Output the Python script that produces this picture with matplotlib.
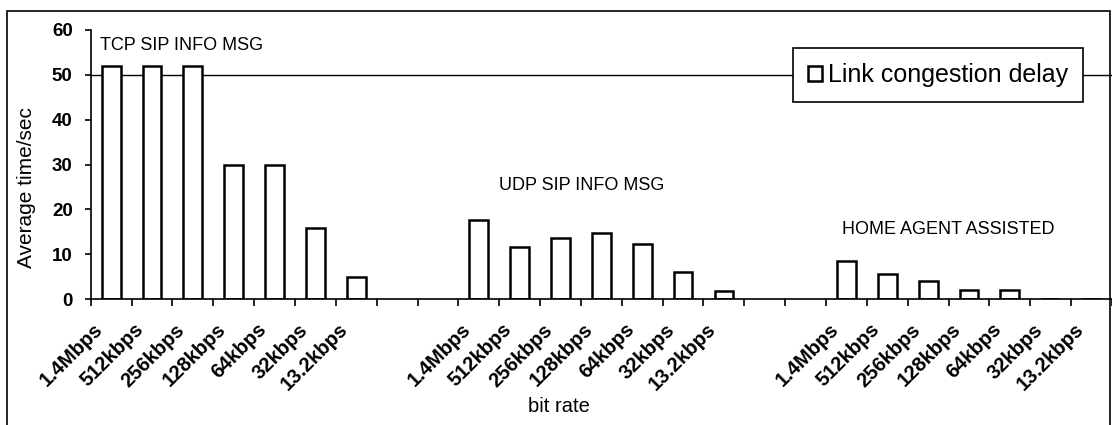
#!/usr/bin/env python3
"""
Link congestion delay per bit rate for three signalling schemes
(TCP SIP INFO, UDP SIP INFO, home agent assisted), Excel-style bar chart.
"""

import numpy as np
import matplotlib
matplotlib.use("Agg")
import matplotlib.pyplot as plt
import matplotlib.transforms as mtransforms
from matplotlib.patches import Rectangle

# ----------------- DATA -----------------
RATES = ["1.4Mbps", "512kbps", "256kbps", "128kbps", "64kbps", "32kbps", "13.2kbps"]
GROUPS = ["TCP SIP INFO MSG", "UDP SIP INFO MSG", "HOME AGENT ASSISTED"]

TCP_DELAY = [52.0, 52.0, 52.0, 30.0, 30.0, 15.8, 5.0]
UDP_DELAY = [17.6, 11.7, 13.5, 14.8, 12.2, 6.0, 1.8]
HA_DELAY = [8.5, 5.6, 4.1, 2.0, 2.1, 0.0, 0.0]

SERIES_NAME = "Link congestion delay"
GAP = 2          # empty categories between groups
# ----------------------------------------

plt.rcParams["font.family"] = ["Liberation Sans", "DejaVu Sans"]

W, H = 1112, 425
fig = plt.figure(figsize=(W / 100, H / 100), dpi=100)
ax = fig.add_axes([90.7 / W, 1 - 299 / H, 1 - 90.7 / W, (299 - 30) / H])

group_size = len(RATES) + GAP
n_cats = group_size * (len(GROUPS) - 1) + len(RATES)

positions = []
heights = []
for g, vals in enumerate([TCP_DELAY, UDP_DELAY, HA_DELAY]):
    for i, v in enumerate(vals):
        positions.append(g * group_size + i)
        heights.append(v)

tick_labels = [""] * n_cats
for p, lab in zip(positions, RATES * len(GROUPS)):
    tick_labels[p] = lab

# gridline (only the 50 one survived in the original)
ax.axhline(50, color="black", lw=1.0, zorder=0)

ax.bar(positions, heights, width=0.46, color="white", edgecolor="black",
       linewidth=1.8, label=SERIES_NAME, zorder=2)

ax.set_xlim(-0.5, n_cats - 0.5)
ax.set_ylim(0, 60)
ax.set_yticks(np.arange(0, 61, 10))

ax.set_xticks(np.arange(n_cats))
ax.set_xticklabels(tick_labels, rotation=45, ha="right", va="center",
                   rotation_mode="anchor", fontsize=14.5, fontweight="bold")
ax.set_xticks(np.arange(n_cats + 1) - 0.5, minor=True)
ax.tick_params(axis="x", which="major", length=0, pad=20)
ax.tick_params(axis="x", which="minor", length=5, width=1.2, direction="out")
ax.tick_params(axis="y", length=4, width=1.2, direction="out", pad=9, labelsize=13.5)
for lab in ax.get_yticklabels():
    lab.set_fontweight("bold")

shift = mtransforms.ScaledTranslation(-0.11, 0, fig.dpi_scale_trans)
for lab in ax.get_xticklabels():
    lab.set_transform(lab.get_transform() + shift)

for side in ["top", "right"]:
    ax.spines[side].set_visible(False)
ax.spines["left"].set_linewidth(1.2)
ax.spines["bottom"].set_linewidth(1.2)

# group annotations
ax.text(-0.27, 56.6, GROUPS[0], fontsize=13, ha="left", va="center")
ax.text(11.53, 25.4, GROUPS[1], fontsize=13, ha="center", va="center")
ax.text(20.5, 15.4, GROUPS[2], fontsize=13, ha="center", va="center")

ax.set_xlabel("bit rate", fontsize=14.5, va="center")
ax.xaxis.set_label_coords((559 - 90.7) / 1021.3, (299 - 407) / 269)
ax.set_ylabel("Average time/sec", fontsize=15, va="center")
ax.yaxis.set_label_coords((26 - 90.7) / 1021.3, (299 - 188) / 269)

leg = ax.legend(loc="upper right", bbox_to_anchor=((1083 - 90.7) / 1021.3, (299 - 48) / 269),
                borderaxespad=0, fontsize=18, fancybox=False, framealpha=1,
                edgecolor="black", handlelength=0.55, handleheight=0.55,
                handletextpad=0.25, borderpad=0.6)
leg.get_frame().set_linewidth(1.2)

# outer chart border
fig.patches.append(Rectangle((7 / W, -0.02), 1103 / W, 1 - 11 / H + 0.02,
                             transform=fig.transFigure, fill=False,
                             edgecolor="black", linewidth=1.2))

fig.savefig("out.png", dpi=100)
